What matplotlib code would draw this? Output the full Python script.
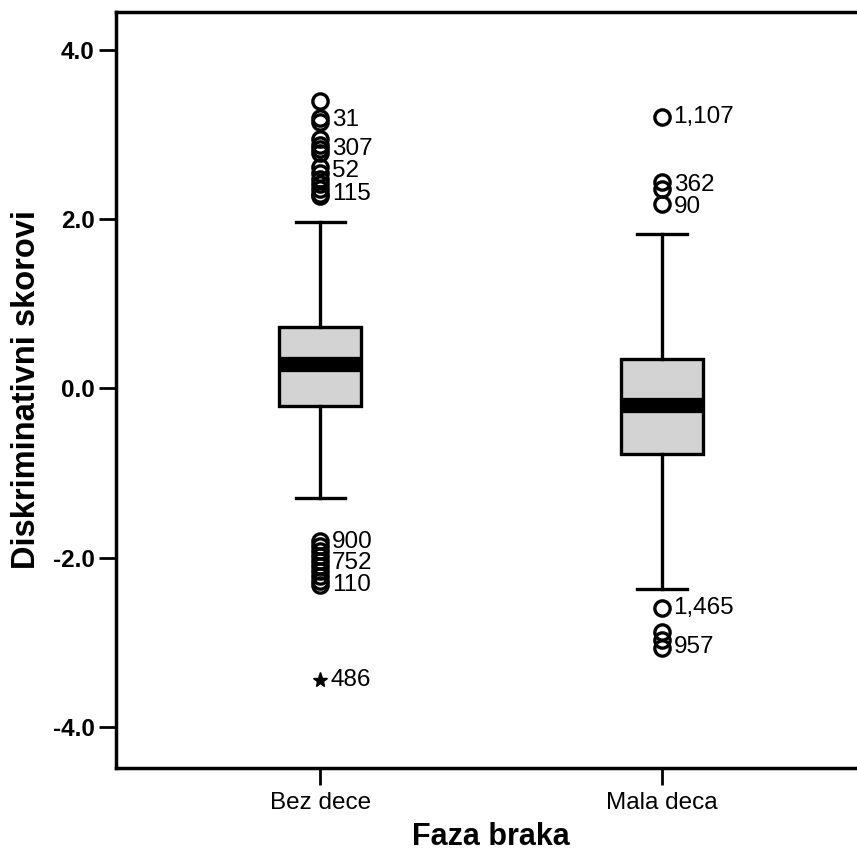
import matplotlib
matplotlib.use("Agg")
import matplotlib.pyplot as plt
from matplotlib import font_manager

categories = ["Bez dece", "Mala deca"]
q1 = [-0.21, -0.78]
median = [0.29, -0.19]
q3 = [0.73, 0.35]
whisker_low = [-1.30, -2.37]
whisker_high = [1.97, 1.83]
outliers = [
    [3.40, 3.20, 3.15, 2.95, 2.88, 2.83, 2.78, 2.62, 2.55, 2.48, 2.42, 2.36, 2.30, 2.27,
     -1.80, -1.86, -1.92, -1.98, -2.04, -2.10, -2.16, -2.22, -2.28, -2.32],
    [3.21, 2.44, 2.36, 2.18, -2.59, -2.88, -2.97, -3.07],
]
extremes = [[-3.44], []]
outlier_labels = [
    [("31", 3.17), ("307", 2.83), ("52", 2.57), ("115", 2.30),
     ("900", -1.82), ("752", -2.06), ("110", -2.32)],
    [("1,107", 3.21), ("362", 2.40), ("90", 2.15), ("1,465", -2.59), ("957", -3.06)],
]
extreme_labels = [[("486", -3.44)], []]
yticks = [-4.0, -2.0, 0.0, 2.0, 4.0]

names = {f.name for f in font_manager.fontManager.ttflist}
narrow = "Liberation Sans Narrow" if "Liberation Sans Narrow" in names else "Liberation Sans"
base = "Liberation Sans"

fig = plt.figure(figsize=(8.57, 8.55), dpi=100)
ax = fig.add_axes([0.1355, 0.1018, 0.875, 0.8842])

stats = []
for i in range(len(categories)):
    stats.append(dict(q1=q1[i], med=median[i], q3=q3[i], whislo=whisker_low[i],
                      whishi=whisker_high[i], fliers=outliers[i]))
pos = [1, 2]
ax.bxp(stats, positions=pos, widths=0.24, patch_artist=True, showfliers=True,
       boxprops=dict(facecolor="#d3d3d3", edgecolor="black", linewidth=2.4),
       medianprops=dict(color="black", linewidth=11, solid_capstyle="butt"),
       whiskerprops=dict(color="black", linewidth=2.4),
       capprops=dict(color="black", linewidth=2.4),
       capwidths=0.145,
       flierprops=dict(marker="o", markersize=11, markerfacecolor="none",
                       markeredgecolor="black", markeredgewidth=2.4, linestyle="none"))

for i, p in enumerate(pos):
    if extremes[i]:
        ax.plot([p] * len(extremes[i]), extremes[i], linestyle="none", marker="*",
                markersize=11, color="black")
    for lab, v in outlier_labels[i]:
        ax.annotate(lab, (p, v), xytext=(8.5, 0), textcoords="offset points",
                    va="center", ha="left", fontsize=17.5, family=base)
    for lab, v in extreme_labels[i]:
        ax.annotate(lab, (p, v), xytext=(7, 0), textcoords="offset points",
                    va="center", ha="left", fontsize=17.5, family=base)

ax.set_xlim(0.402, 2.598)
ax.set_ylim(-4.485, 4.45)
ax.set_xticks(pos)
ax.set_xticklabels(categories, family=base, fontsize=17.5)
ax.set_yticks(yticks)
ax.set_yticklabels([f"{t:.1f}" for t in yticks], family=base, fontsize=17.5, fontweight="bold")
ax.tick_params(axis="both", length=12, width=2, direction="out", color="black", pad=3.5)
ax.tick_params(axis="x", pad=5)
for s in ax.spines.values():
    s.set_linewidth(2.5)
ax.set_ylabel("Diskriminativni skorovi", family=narrow, fontsize=23.5, fontweight="bold", labelpad=8)
ax.set_xlabel("Faza braka", family=base, fontsize=22, fontweight="bold", labelpad=6)

fig.savefig("out.png", dpi=100)
